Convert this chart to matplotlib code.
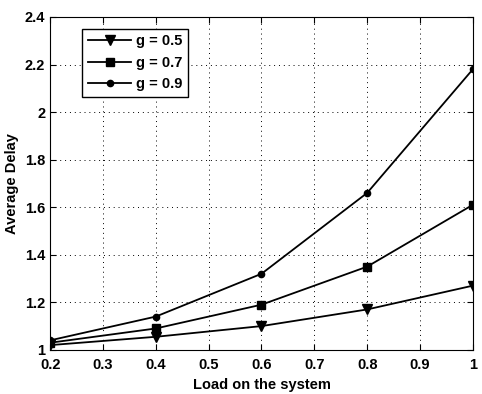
import matplotlib
matplotlib.use('Agg')
import matplotlib.pyplot as plt
from matplotlib.ticker import FormatStrFormatter

load = [0.2, 0.4, 0.6, 0.8, 1.0]
delay_g05 = [1.02, 1.055, 1.10, 1.17, 1.27]
delay_g07 = [1.03, 1.09, 1.19, 1.35, 1.61]
delay_g09 = [1.04, 1.14, 1.32, 1.66, 2.18]

plt.rcParams['font.family'] = ['Liberation Sans', 'DejaVu Sans']
plt.rcParams['font.weight'] = 'bold'

fig = plt.figure(figsize=(4.82, 3.94), dpi=100)
ax = fig.add_axes([0.104, 0.112, 0.877, 0.845])

ax.plot(load, delay_g05, 'k-v', lw=1.3, ms=6.5, label='g = 0.5')
ax.plot(load, delay_g07, 'k-s', lw=1.3, ms=5.5, label='g = 0.7')
ax.plot(load, delay_g09, 'k-o', lw=1.3, ms=4.5, label='g = 0.9')

ax.set_xlim(0.2, 1.0)
ax.set_ylim(1.0, 2.4)
ax.set_xticks([0.2, 0.3, 0.4, 0.5, 0.6, 0.7, 0.8, 0.9, 1.0])
ax.set_yticks([1.0, 1.2, 1.4, 1.6, 1.8, 2.0, 2.2, 2.4])
ax.xaxis.set_major_formatter(FormatStrFormatter('%g'))
ax.yaxis.set_major_formatter(FormatStrFormatter('%g'))
ax.tick_params(direction='in', labelsize=10.5, length=4, top=True, right=True)
ax.tick_params(axis='x', pad=6)
ax.grid(True, color='k', linewidth=0.7, dashes=(1, 4))

ax.set_xlabel('Load on the system', fontsize=10.5, fontweight='bold', labelpad=4)
ax.set_ylabel('Average Delay', fontsize=10.5, fontweight='bold')

leg = ax.legend(loc='upper left', bbox_to_anchor=(0.075, 0.965), fontsize=10.5,
                fancybox=False, edgecolor='k', framealpha=1, handlelength=3,
                borderaxespad=0, handletextpad=0.3, labelspacing=0.5)
leg.get_frame().set_linewidth(1.0)

fig.savefig('out.png', dpi=100)
